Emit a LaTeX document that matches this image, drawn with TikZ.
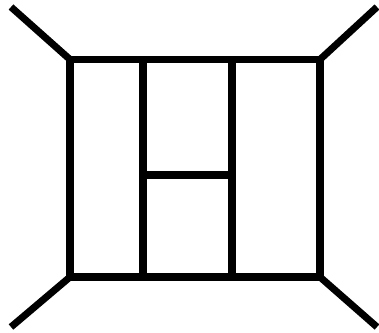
\documentclass[tikz,border=0pt]{standalone}
\usetikzlibrary{positioning}

\tikzset{prop/.style={draw=black,line width=4pt,line cap=butt,line join=miter}}

\begin{document}
\begin{tikzpicture}[x=0.02cm,y=-0.02cm]
\useasboundingbox (0,0) rectangle (379,332);
\coordinate (tl) at (70,59.5);
\coordinate (tr) at (320,59.5);
\coordinate (bl) at (70,277);
\coordinate (br) at (320,277);
\coordinate (ta) at (143,59.5);
\coordinate (tb) at (232,59.5);
\coordinate (ba) at (143,277);
\coordinate (bb) at (232,277);
\coordinate (ma) at (143,175);
\coordinate (mb) at (232,175);
\coordinate (p1) at (11,7);
\coordinate (p2) at (377,7);
\coordinate (p3) at (11,327);
\coordinate (p4) at (377,327);
\draw[prop] (tl) rectangle (br);
\draw[prop] (ta) -- (ba);
\draw[prop] (tb) -- (bb);
\draw[prop] (ma) -- (mb);
\draw[prop] (p1) -- (tl);
\draw[prop] (p2) -- (tr);
\draw[prop] (p3) -- (bl);
\draw[prop] (p4) -- (br);
\end{tikzpicture}
\end{document}
